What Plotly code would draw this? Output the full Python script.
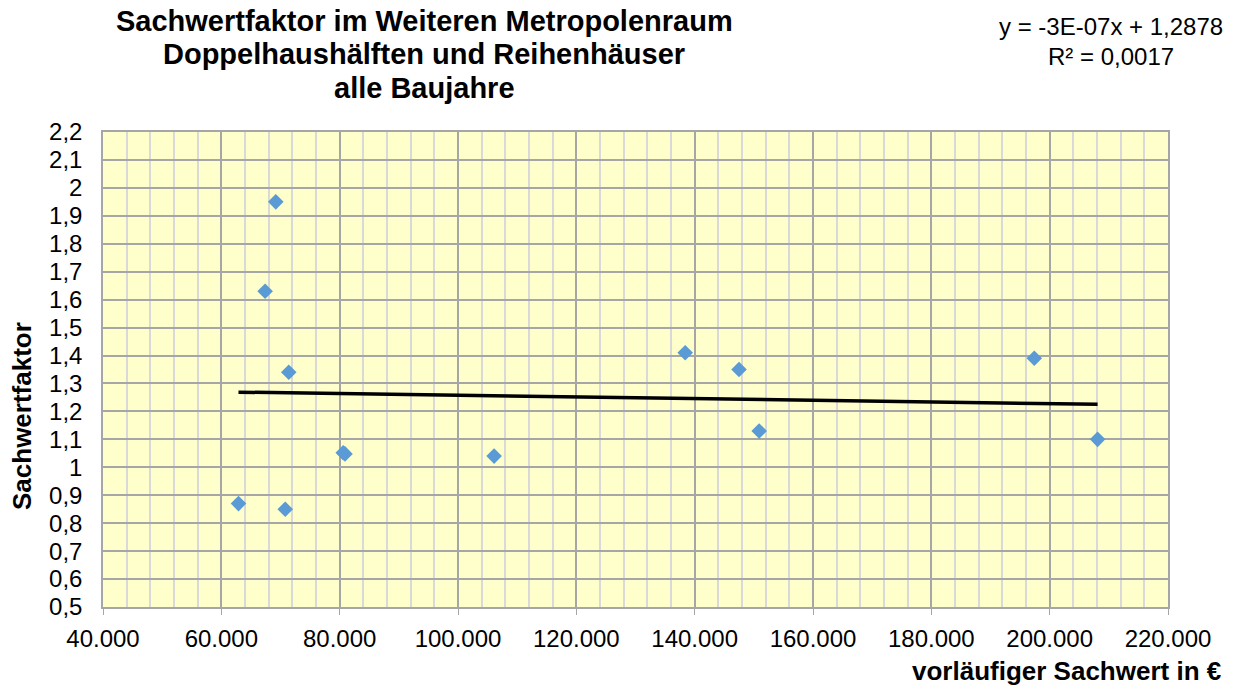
import plotly.graph_objects as go

# Vorläufiger Sachwert (EUR) und Sachwertfaktor je Objekt
sachwert = [69200, 67400, 71400, 80600, 80900, 62900, 70800,
            106100, 138400, 147500, 150900, 197400, 208100]
faktor = [1.95, 1.63, 1.34, 1.052, 1.048, 0.87, 0.85,
          1.04, 1.41, 1.35, 1.13, 1.39, 1.10]

# Lineare Trendlinie (Koeffizienten wie angegeben)
trend_slope = -3e-07
trend_intercept = 1.2878
trend_r2 = 0.0017

x_ticks = [40000, 60000, 80000, 100000, 120000, 140000, 160000, 180000, 200000, 220000]
x_ticklabels = ["40.000", "60.000", "80.000", "100.000", "120.000", "140.000",
                "160.000", "180.000", "200.000", "220.000"]
y_ticks = [0.5, 0.6, 0.7, 0.8, 0.9, 1.0, 1.1, 1.2, 1.3, 1.4, 1.5, 1.6, 1.7,
           1.8, 1.9, 2.0, 2.1, 2.2]
y_ticklabels = ["0,5", "0,6", "0,7", "0,8", "0,9", "1", "1,1", "1,2", "1,3", "1,4",
                "1,5", "1,6", "1,7", "1,8", "1,9", "2", "2,1", "2,2"]

title_lines = ["Sachwertfaktor im Weiteren Metropolenraum",
               "Doppelhaushälften und Reihenhäuser",
               "alle Baujahre"]

FONT = "Liberation Sans, Arial, sans-serif"

x_min, x_max = min(sachwert), max(sachwert)
trend_x = [x_min, x_max]
trend_y = [trend_slope * v + trend_intercept for v in trend_x]

fig = go.Figure()
fig.add_trace(go.Scatter(
    x=sachwert, y=faktor, mode="markers",
    marker=dict(symbol="diamond", size=12, color="#5B9BD5", line=dict(width=0)),
    showlegend=False, hoverinfo="x+y",
))
fig.add_trace(go.Scatter(
    x=trend_x, y=trend_y, mode="lines",
    line=dict(color="#000000", width=3.5),
    showlegend=False, hoverinfo="skip",
))

annotations = []
for i, line in enumerate(title_lines):
    annotations.append(dict(
        text=f"<b>{line}</b>", x=424, y=21 + i * 33.5, xref="paper", yref="paper",
        showarrow=False, xanchor="center", yanchor="middle",
        font=dict(family=FONT, size=29, color="#000000"),
    ))
eq_lines = [f"y = -3E-07x + {trend_intercept:.4f}".replace(".", ","),
            f"R² = {trend_r2:.4f}".replace(".", ",")]
for i, line in enumerate(eq_lines):
    annotations.append(dict(
        text=line, x=1111, y=27 + i * 29, xref="paper", yref="paper",
        showarrow=False, xanchor="center", yanchor="middle",
        font=dict(family=FONT, size=24, color="#000000"),
    ))
annotations.append(dict(
    text="<b>vorläufiger Sachwert in €</b>", x=1223, y=671, xref="paper", yref="paper",
    showarrow=False, xanchor="right", yanchor="middle",
    font=dict(family=FONT, size=26, color="#000000"),
))
annotations.append(dict(
    text="<b>Sachwertfaktor</b>", x=22, y=416, xref="paper", yref="paper",
    showarrow=False, xanchor="center", yanchor="middle", textangle=-90,
    font=dict(family=FONT, size=26, color="#000000"),
))

# convert pixel positions to paper coordinates
W, H = 1234, 688
L, R, T, B = 103, 66, 132, 81
pw, ph = W - L - R, H - T - B
for a in annotations:
    a["x"] = (a["x"] - L) / pw
    a["y"] = 1 - (a["y"] - T) / ph

fig.update_layout(
    width=W, height=H,
    margin=dict(l=L, r=R, t=T, b=B, pad=0),
    paper_bgcolor="#FFFFFF", plot_bgcolor="#FFFFCC",
    font=dict(family=FONT, size=24, color="#000000"),
    annotations=annotations,
    xaxis=dict(
        range=[40000, 220000], tickvals=x_ticks, ticktext=x_ticklabels,
        showgrid=True, gridcolor="#A6A6A6", gridwidth=1.5,
        minor=dict(dtick=4000, tick0=40000, showgrid=True, gridcolor="#D9D9D9", gridwidth=1.5, ticks=""),
        showline=True, linecolor="#A6A6A6", linewidth=1.5, mirror=True,
        ticks="outside", ticklen=6, tickcolor="#A6A6A6", tickwidth=1,
        ticklabelstandoff=3,
        zeroline=False, tickfont=dict(size=24),
    ),
    yaxis=dict(
        range=[0.5, 2.2], tickvals=y_ticks, ticktext=y_ticklabels,
        showgrid=True, gridcolor="#A6A6A6", gridwidth=1.5,
        showline=True, linecolor="#A6A6A6", linewidth=1.5, mirror=True,
        ticks="", ticklen=0, zeroline=False, tickfont=dict(size=24),
        ticklabelstandoff=14,
    ),
)

fig.write_html("out.html")
